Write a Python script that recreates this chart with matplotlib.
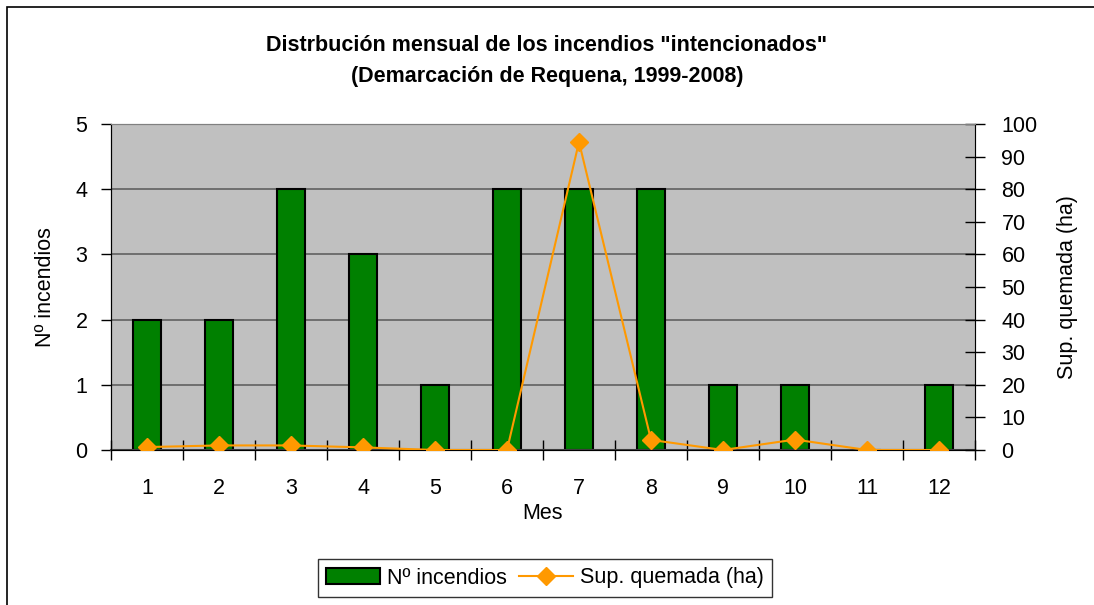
import matplotlib.pyplot as plt
from matplotlib.patches import Rectangle, Patch
from matplotlib.lines import Line2D
import numpy as np

plt.rcParams['font.family'] = ['Liberation Sans Narrow', 'Liberation Sans', 'DejaVu Sans']

meses = [1, 2, 3, 4, 5, 6, 7, 8, 9, 10, 11, 12]
n_incendios = [2, 2, 4, 3, 1, 4, 4, 4, 1, 1, 0, 1]
sup_quemada = [0.9, 1.4, 1.4, 0.8, 0.0, 0.0, 94.5, 3.1, 0.0, 3.2, 0.0, 0.0]

titulo = 'Distrbución mensual de los incendios "intencionados"\n(Demarcación de Requena, 1999-2008)'

fig = plt.figure(figsize=(10.94, 6.05), dpi=100)
W, H = 1094, 605
ax = fig.add_axes([111 / W, 1 - 450 / H, 864 / W, 326 / H])
ax2 = ax.twinx()

# fondo gris y rejilla
ax.set_facecolor('#C0C0C0')
ax.set_axisbelow(True)
ax.yaxis.grid(True, color='#606060', linewidth=1.2)

x = np.arange(len(meses))
ax.bar(x, n_incendios, width=0.4, color='#008000', edgecolor='black', linewidth=1.5, zorder=2)
ax2.plot(x, sup_quemada, color='#FF9900', linewidth=1.5, marker='D', markersize=9, zorder=3)

ax.set_xlim(-0.5, len(meses) - 0.5)
ax.set_ylim(0, 5)
ax2.set_ylim(0, 100)
ax.set_yticks(range(0, 6))
ax2.set_yticks(range(0, 101, 10))

ax.set_xticks(x)
ax.set_xticklabels([str(m) for m in meses])
ax.set_xticks(np.arange(-0.5, len(meses)), minor=True)
ax.tick_params(axis='x', which='major', length=0, pad=20, labelsize=15.5)
ax.tick_params(axis='x', which='minor', direction='inout', length=14, width=1)
ax.tick_params(axis='y', direction='out', length=7, width=1, labelsize=15.5, pad=10)
ax2.tick_params(axis='y', direction='inout', length=14, width=1, labelsize=15.5, pad=12)

for s in ['top', 'right']:
    ax.spines[s].set_color('#808080')
    ax2.spines[s].set_color('#808080')
ax2.spines['right'].set_color('black')
ax.spines['left'].set_color('black')
ax.spines['bottom'].set_color('#404040')
ax.spines['bottom'].set_linewidth(1.5)

ax.set_xlabel('Mes', fontsize=15.5, labelpad=3)
ax.set_ylabel('Nº incendios', fontsize=15.5, labelpad=14)
ax2.set_ylabel('Sup. quemada (ha)', fontsize=15.5, labelpad=14)

fig.text(0.5, 1 - 61 / H, titulo, ha='center', va='center', fontsize=15.5,
         fontweight='bold', linespacing=1.65)

handles = [Patch(facecolor='#008000', edgecolor='black', linewidth=1.5),
           Line2D([], [], color='#FF9900', linewidth=1.5, marker='D', markersize=9)]
leg = fig.legend(handles, ['Nº incendios', 'Sup. quemada (ha)'], loc='center',
                 bbox_to_anchor=(545 / W, 1 - 578 / H), ncol=2, fontsize=15.5,
                 frameon=True, fancybox=False, edgecolor='black', handlelength=2.5,
                 columnspacing=0.6, handletextpad=0.3, borderpad=0.4)
leg.get_frame().set_linewidth(1)

# marco exterior del gráfico
fig.patches.append(Rectangle((7 / W, -0.1), 1.2, 1.1 - 7 / H, transform=fig.transFigure,
                             fill=False, edgecolor='black', linewidth=1.2))

fig.savefig('out.png', dpi=100)
